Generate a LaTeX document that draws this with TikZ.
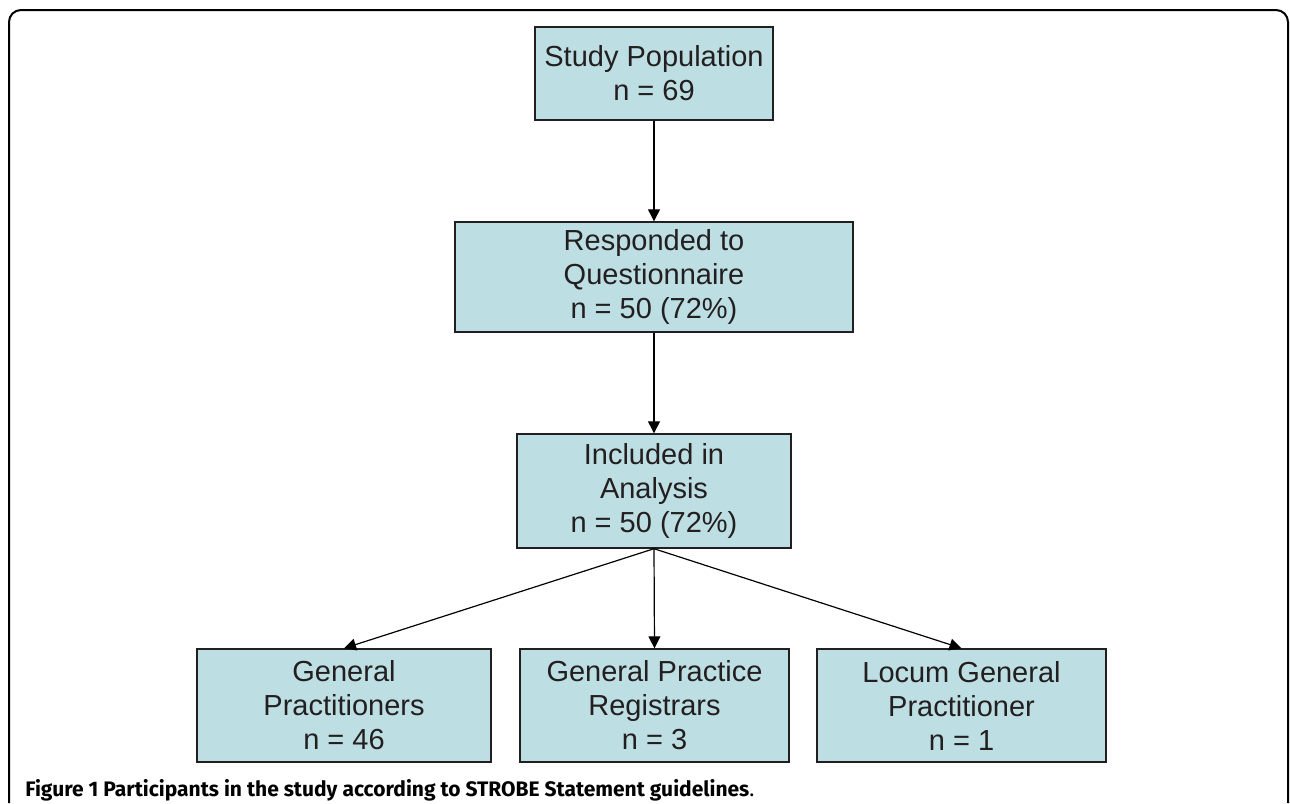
\documentclass[tikz,border=0pt]{standalone}
\usepackage{fontspec}
\setmainfont{Liberation Sans}
\newfontfamily\capfont{Fira Sans}
\usetikzlibrary{arrows.meta}
\definecolor{boxblue}{RGB}{189,223,227}
\definecolor{inkgray}{RGB}{35,31,32}
\tikzset{
  flowbox/.style={draw=inkgray,line width=0.7pt,fill=boxblue,align=center,
    text=inkgray,font=\fontsize{14.5}{17}\selectfont,inner sep=0pt},
  flowarrow/.style={-{Triangle[length=6pt,width=6pt]},line width=0.6pt}
}
\begin{document}
\begin{tikzpicture}[x=0.5pt,y=-0.5pt]
		\useasboundingbox (0,0) rectangle (1290,803);
		% frame round the figure
		\draw[line width=1pt,rounded corners=6pt] (9,803)--(9,10)--(1288,10)--(1288,803);
		% boxes
		\node[flowbox,minimum width=119pt,minimum height=46.5pt] (pop) at (654,73.5) {Study Population\\n = 69};
		\node[flowbox,minimum width=199pt,minimum height=55pt] (resp) at (654,277) {Responded to\\Questionnaire\\n = 50 (72\%)};
		\node[flowbox,minimum width=137pt,minimum height=57pt] (incl) at (654,491) {Included in\\Analysis\\n = 50 (72\%)};
		\node[flowbox,minimum width=147pt,minimum height=56.5pt] (gp) at (344,705.5) {General\\Practitioners\\n = 46};
		\node[flowbox,minimum width=134.5pt,minimum height=56.5pt] (gpr) at (654.5,705.5) {General Practice\\Registrars\\n = 3};
		\node[flowbox,minimum width=144.5pt,minimum height=56.5pt] (locum) at (961.5,705.5) {Locum General\\Practitioner\\n = 1};
		% connectors
		\draw[flowarrow] (pop.south)--(resp.north);
		\draw[flowarrow] (resp.south)--(incl.north);
		\draw[flowarrow] (incl.south)--(gp.north);
		\draw[flowarrow] (incl.south)--(gpr.north);
		\draw[flowarrow] (incl.south)--(locum.north);
		% caption
		\node[anchor=base west,inner sep=0pt,font=\capfont\fontsize{10.5}{12}\selectfont] (caption) at (25,796) {\textbf{Figure 1 Participants in the study according to STROBE Statement guidelines}.};
	\end{tikzpicture}
\end{document}
